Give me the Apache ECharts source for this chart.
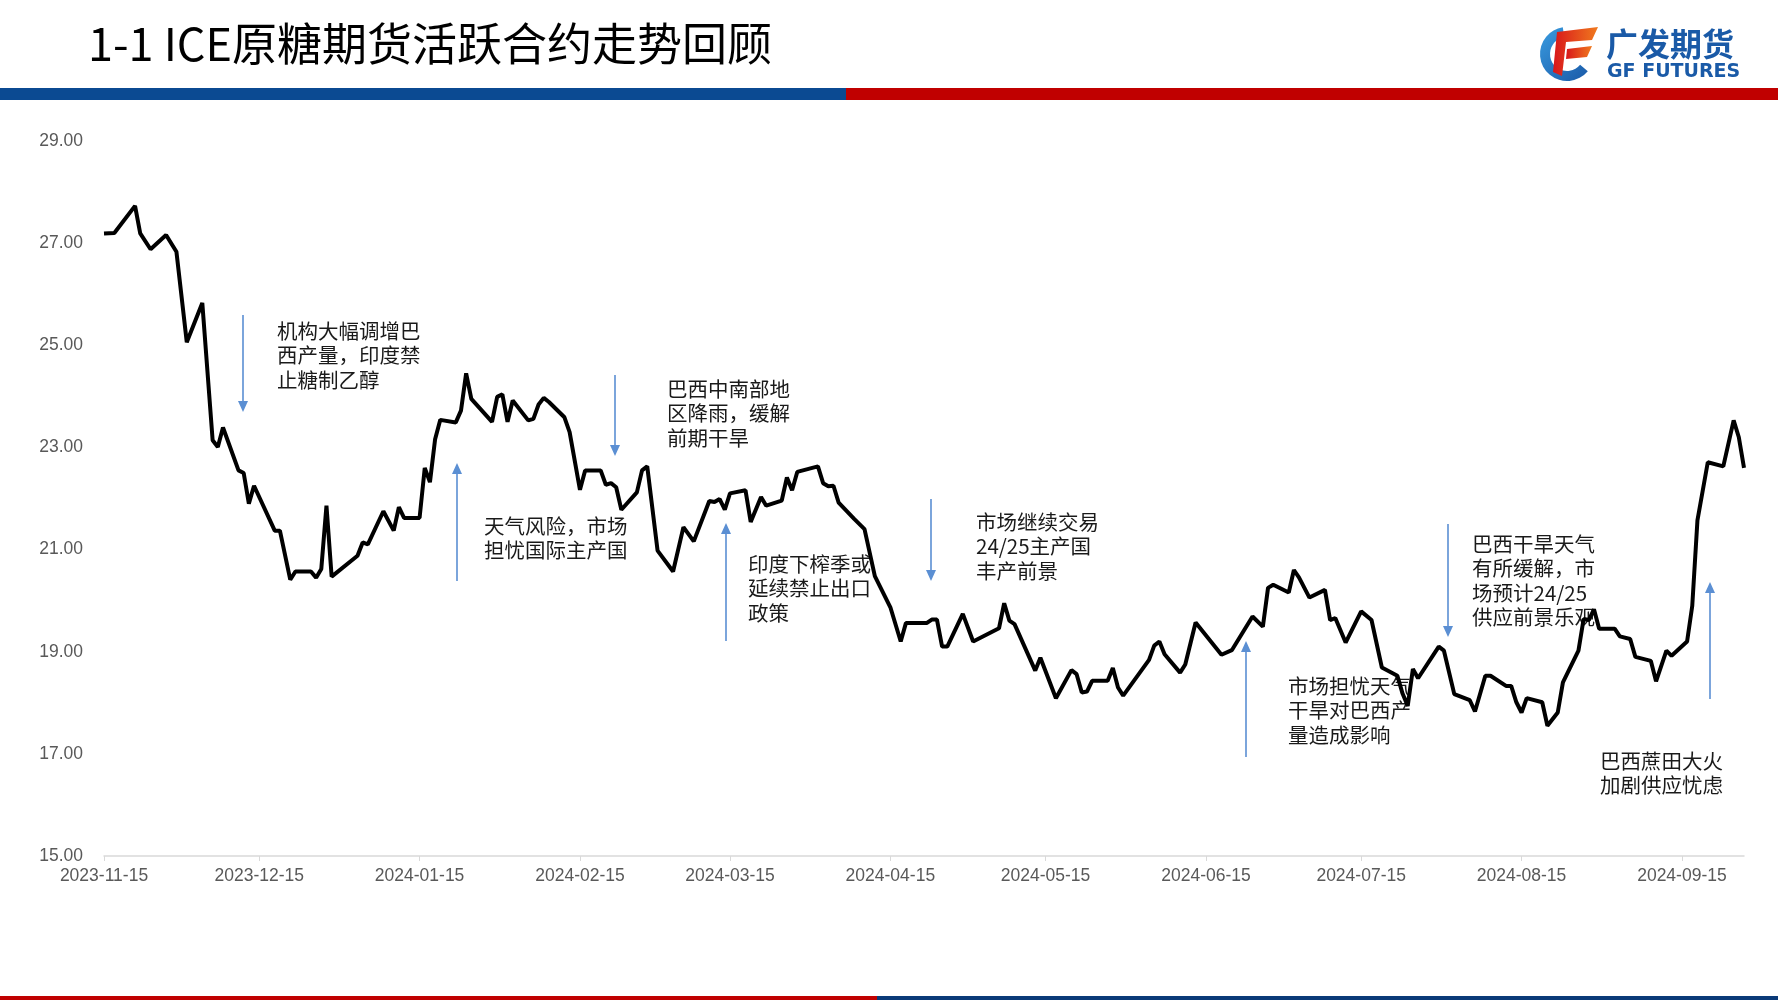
<!DOCTYPE html>
<html><head><meta charset="utf-8">
<script src="https://cdn.jsdelivr.net/npm/echarts@6/dist/echarts.min.js"></script>
<style>html,body{margin:0;padding:0;background:#fff}#c{width:1778px;height:1000px}</style>
</head><body><div id="c"></div>
<script>
// ---------- data ----------
const titleText = '1-1 ICE原糖期货活跃合约走势回顾';
const startDate = '2023-11-15';
const endDate = '2024-09-27';
const tickLabels = ['2023-11-15','2023-12-15','2024-01-15','2024-02-15','2024-03-15','2024-04-15','2024-05-15','2024-06-15','2024-07-15','2024-08-15','2024-09-15'];
const yMin = 15, yMax = 29, yStep = 2;

const dates = [
'2023-11-15','2023-11-17','2023-11-21','2023-11-22','2023-11-24','2023-11-27','2023-11-29','2023-12-01','2023-12-04','2023-12-06',
'2023-12-07','2023-12-08','2023-12-11','2023-12-12','2023-12-13','2023-12-14','2023-12-18','2023-12-19','2023-12-21','2023-12-22',
'2023-12-25','2023-12-26','2023-12-27','2023-12-28','2023-12-29','2024-01-03','2024-01-04','2024-01-05','2024-01-08','2024-01-10',
'2024-01-11','2024-01-12','2024-01-15','2024-01-16','2024-01-17','2024-01-18','2024-01-19','2024-01-22','2024-01-23','2024-01-24',
'2024-01-25','2024-01-29','2024-01-30','2024-01-31','2024-02-01','2024-02-02','2024-02-05','2024-02-06','2024-02-07','2024-02-08',
'2024-02-09','2024-02-12','2024-02-13','2024-02-15','2024-02-16','2024-02-19','2024-02-20','2024-02-21','2024-02-22','2024-02-23',
'2024-02-26','2024-02-27','2024-02-28','2024-03-01','2024-03-04','2024-03-06','2024-03-08','2024-03-11','2024-03-12','2024-03-13',
'2024-03-14','2024-03-15','2024-03-18','2024-03-19','2024-03-21','2024-03-22','2024-03-25','2024-03-26','2024-03-27','2024-03-28',
'2024-04-01','2024-04-02','2024-04-03','2024-04-04','2024-04-05','2024-04-08','2024-04-10','2024-04-12','2024-04-15','2024-04-17',
'2024-04-18','2024-04-22','2024-04-23','2024-04-24','2024-04-25','2024-04-26','2024-04-29','2024-05-01','2024-05-06','2024-05-07',
'2024-05-08','2024-05-09','2024-05-13','2024-05-14','2024-05-17','2024-05-20','2024-05-21','2024-05-22','2024-05-23','2024-05-24',
'2024-05-27','2024-05-28','2024-05-29','2024-05-30','2024-06-04','2024-06-05','2024-06-06','2024-06-07','2024-06-10','2024-06-11',
'2024-06-13','2024-06-18','2024-06-20','2024-06-24','2024-06-26','2024-06-27','2024-06-28','2024-07-01','2024-07-02','2024-07-03',
'2024-07-05','2024-07-08','2024-07-09','2024-07-10','2024-07-12','2024-07-15','2024-07-17','2024-07-19','2024-07-22','2024-07-23',
'2024-07-24','2024-07-25','2024-07-26','2024-07-30','2024-07-31','2024-08-02','2024-08-05','2024-08-06','2024-08-08','2024-08-09',
'2024-08-12','2024-08-13','2024-08-14','2024-08-15','2024-08-16','2024-08-19','2024-08-20','2024-08-22','2024-08-23','2024-08-26',
'2024-08-27','2024-08-28','2024-08-29','2024-08-30','2024-09-02','2024-09-03','2024-09-05','2024-09-06','2024-09-09','2024-09-10',
'2024-09-12','2024-09-13','2024-09-16','2024-09-17','2024-09-18','2024-09-20','2024-09-23','2024-09-25','2024-09-26','2024-09-27'
];
const prices = [
27.19,27.20,27.73,27.19,26.88,27.16,26.83,25.06,25.83,23.14,
23.01,23.39,22.55,22.50,21.90,22.25,21.37,21.37,20.41,20.57,
20.57,20.45,20.62,21.86,20.47,20.88,21.14,21.10,21.75,21.37,
21.83,21.62,21.62,22.60,22.32,23.16,23.54,23.49,23.72,24.45,
23.95,23.50,23.99,24.04,23.50,23.92,23.53,23.56,23.84,23.97,
23.89,23.59,23.30,22.17,22.55,22.55,22.27,22.30,22.22,21.78,
22.12,22.55,22.63,20.98,20.57,21.44,21.16,21.95,21.93,21.99,
21.78,22.10,22.16,21.54,22.03,21.86,21.96,22.41,22.16,22.52,
22.63,22.30,22.24,22.25,21.92,21.60,21.40,20.48,19.87,19.20,
19.56,19.56,19.63,19.63,19.10,19.10,19.74,19.20,19.46,19.95,
19.61,19.54,18.63,18.88,18.09,18.64,18.56,18.20,18.22,18.43,
18.43,18.68,18.30,18.14,18.84,19.12,19.20,18.95,18.59,18.75,
19.57,18.94,19.03,19.69,19.49,20.25,20.31,20.16,20.60,20.45,
20.06,20.21,19.62,19.66,19.18,19.79,19.62,18.69,18.53,18.18,
17.94,18.66,18.48,19.10,19.02,18.17,18.05,17.83,18.53,18.53,
18.33,18.33,18.01,17.81,18.09,18.01,17.55,17.81,18.40,19.02,
19.64,19.62,19.83,19.45,19.45,19.30,19.25,18.90,18.82,18.42,
19.02,18.92,19.20,19.90,21.57,22.71,22.63,23.53,23.20,22.60
];

const noteTexts = [
  ['机构大幅调增巴','西产量，印度禁','止糖制乙醇'],
  ['天气风险，市场','担忧国际主产国'],
  ['巴西中南部地','区降雨，缓解','前期干旱'],
  ['印度下榨季或','延续禁止出口','政策'],
  ['市场继续交易','24/25主产国','丰产前景'],
  ['市场担忧天气','干旱对巴西产','量造成影响'],
  ['巴西干旱天气','有所缓解，市','场预计24/25','供应前景乐观'],
  ['巴西蔗田大火','加剧供应忧虑']
];

// ---------- layout (pixels) ----------
const noteLayout = [ // text x, first-line center y, arrow x, arrow tail y, arrow head y
  {tx:277, ty:331, ax:243, t:315, h:412},
  {tx:484, ty:526, ax:457, t:581, h:463},
  {tx:667, ty:389, ax:615, t:375, h:456},
  {tx:748, ty:564, ax:726, t:641, h:523},
  {tx:976, ty:522, ax:931, t:499, h:581},
  {tx:1288, ty:686, ax:1246, t:757, h:641},
  {tx:1472, ty:544, ax:1448, t:524, h:637},
  {tx:1600, ty:761, ax:1710, t:699, h:582}
];

// ---------- build ----------
const cats = [];
for (let t = Date.parse(startDate + 'T00:00:00Z'); t <= Date.parse(endDate + 'T00:00:00Z'); t += 86400000) {
  cats.push(new Date(t).toISOString().slice(0, 10));
}
const priceMap = {};
dates.forEach((d, i) => { priceMap[d] = prices[i]; });
const seriesData = cats.map(c => (c in priceMap ? priceMap[c] : null));
const isTick = (idx, val) => tickLabels.indexOf(val) >= 0;

const LH = 24.4;
const noteFont = '20.5px "Noto Sans CJK SC", sans-serif';
const arrowColor = '#5b8fd3';
const graphics = [];

// header bars
graphics.push({type:'rect', shape:{x:0,y:88,width:846,height:12}, style:{fill:'#0b4a92'}, z:1});
graphics.push({type:'rect', shape:{x:846,y:88,width:932,height:12}, style:{fill:'#c00000'}, z:1});
// footer bars
graphics.push({type:'rect', shape:{x:0,y:996,width:877,height:4}, style:{fill:'#c00000'}, z:1});
graphics.push({type:'rect', shape:{x:877,y:996,width:901,height:4}, style:{fill:'#0a3a78'}, z:1});
// title
graphics.push({type:'text', x:88, y:44, style:{text:titleText, font:'45px "Noto Sans CJK SC", sans-serif', fill:'#000', textVerticalAlign:'middle'}, z:1});
// logo
graphics.push({type:'sector', shape:{cx:1567, cy:54, r:27, r0:17, startAngle:Math.PI*0.22, endAngle:Math.PI*1.45, clockwise:true},
  style:{fill:new echarts.graphic.LinearGradient(0,0,1,1,[{offset:0,color:'#3a9ce0'},{offset:1,color:'#1a5aa8'}])}, z:1});
const redGrad = new echarts.graphic.LinearGradient(0,0,1,0,[{offset:0,color:'#d8161b'},{offset:1,color:'#f07a1e'}]);
graphics.push({type:'polygon', shape:{points:[[1557,32],[1598,27],[1592,40],[1566,42],[1562,76],[1553,72]]}, style:{fill:redGrad}, z:1});
graphics.push({type:'polygon', shape:{points:[[1567,49],[1592,46],[1587,57],[1566,59]]}, style:{fill:redGrad}, z:1});
graphics.push({type:'text', x:1606, y:44, style:{text:'广发期货', font:'bold 32px "Noto Sans CJK SC", sans-serif', fill:'#1a5aa7', textVerticalAlign:'middle'}, z:1});
graphics.push({type:'text', x:1607, y:72, style:{text:'GF FUTURES', font:'bold 19px "DejaVu Sans", sans-serif', fill:'#1a5aa7', textVerticalAlign:'middle'}, z:1});

// notes & arrows
noteTexts.forEach((lines, i) => {
  const L = noteLayout[i];
  lines.forEach((ln, j) => {
    graphics.push({type:'text', x:L.tx, y:L.ty + j*LH, style:{text:ln, font:noteFont, fill:'#1a1a1a', textVerticalAlign:'middle'}, z:0});
  });
  const dir = L.h > L.t ? 1 : -1;
  const hl = 11, hw = 5;
  graphics.push({type:'line', shape:{x1:L.ax, y1:L.t, x2:L.ax, y2:L.h - dir*hl}, style:{stroke:arrowColor, lineWidth:1.6}, z:0});
  graphics.push({type:'polygon', shape:{points:[[L.ax-hw, L.h - dir*hl],[L.ax+hw, L.h - dir*hl],[L.ax, L.h]]}, style:{fill:arrowColor}, z:0});
});

const chart = echarts.init(document.getElementById('c'), null, {renderer:'canvas'});
chart.setOption({
  animation:false,
  backgroundColor:'#fff',
  grid:{left:104, right:34, top:141, bottom:144, containLabel:false},
  xAxis:{
    type:'category', data:cats, boundaryGap:false,
    axisLine:{show:true, lineStyle:{color:'#d9d9d9', width:1.5}},
    axisTick:{show:true, interval:isTick, length:5, lineStyle:{color:'#d9d9d9'}},
    axisLabel:{interval:isTick, color:'#595959', fontSize:17.5, fontFamily:'"Liberation Sans", Arial, sans-serif', margin:11},
    splitLine:{show:false}
  },
  yAxis:{
    type:'value', min:yMin, max:yMax, interval:yStep,
    axisLine:{show:false}, axisTick:{show:false}, splitLine:{show:false},
    axisLabel:{formatter:v => v.toFixed(2), color:'#595959', fontSize:17.5, fontFamily:'"Liberation Sans", Arial, sans-serif', margin:21}
  },
  series:[{
    type:'line', data:seriesData, connectNulls:true, showSymbol:false, symbol:'none',
    lineStyle:{color:'#000', width:4}, z:5
  }],
  graphic:{elements:graphics}
});
</script></body></html>
